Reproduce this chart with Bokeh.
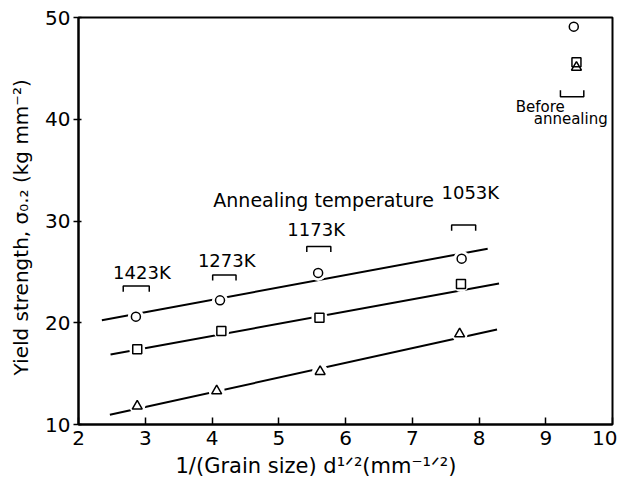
from bokeh.plotting import figure
from bokeh.models import Range1d, Label, FixedTicker, Title
from bokeh.embed import file_html
from bokeh.resources import INLINE

# ---- data ----
x_ticks = [2, 3, 4, 5, 6, 7, 8, 9, 10]
y_ticks = [10, 20, 30, 40, 50]

circle_x = [2.86, 4.12, 5.59, 7.74]
circle_y = [20.6, 22.2, 24.9, 26.3]
square_x = [2.88, 4.14, 5.61, 7.73]
square_y = [17.4, 19.2, 20.5, 23.8]
tri_x = [2.88, 4.07, 5.62, 7.71]
tri_y = [11.8, 13.3, 15.2, 18.9]

before_circle = (9.42, 49.1)
before_square = (9.46, 45.6)
before_tri = (9.46, 45.1)

fit_circle_x = [2.35, 8.13]
fit_circle_y = [20.25, 27.27]
fit_square_x = [2.48, 8.30]
fit_square_y = [16.87, 23.86]
fit_tri_x = [2.47, 8.27]
fit_tri_y = [10.95, 19.33]

temp_labels = ["1423K", "1273K", "1173K", "1053K"]
temp_label_x = [2.95, 4.22, 5.56, 7.87]
temp_label_y = [24.9, 26.1, 29.2, 32.8]
bracket_x0 = [2.67, 4.01, 5.42, 7.59]
bracket_x1 = [3.06, 4.36, 5.78, 7.95]
bracket_y = [23.6, 24.7, 27.5, 29.6]

before_bracket_x = [9.22, 9.57]
before_bracket_y = 42.2

x_title = "1/(Grain  size) d\u00b9\u141f\u00b2(mm\u207b\u00b9\u141f\u00b2)"
y_title = "Yield  strength, \u03c3\u2080.\u2082 (kg  mm\u207b\u00b2)"

FONT = "DejaVu Sans"

p = figure(width=617, height=486, output_backend="svg", toolbar_location=None,
           x_range=Range1d(2, 10), y_range=Range1d(10, 50),
           min_border_left=78, min_border_right=5, min_border_top=17, min_border_bottom=62)
p.grid.visible = False
p.background_fill_color = "white"
p.border_fill_color = "white"
p.outline_line_color = "black"
p.outline_line_width = 2

for ax in (p.xaxis[0], p.yaxis[0]):
    ax.axis_line_width = 2
    ax.axis_line_color = "black"
    ax.major_tick_line_width = 1.5
    ax.minor_tick_line_color = None
    ax.major_label_text_font = FONT
    ax.major_label_text_font_size = "20px"
    ax.major_label_text_color = "black"
    ax.axis_label_text_font = FONT
    ax.axis_label_text_font_style = "normal"
    ax.axis_label_text_color = "black"

p.xaxis[0].ticker = FixedTicker(ticks=x_ticks)
p.yaxis[0].ticker = FixedTicker(ticks=y_ticks)
p.xaxis[0].major_tick_in = 7
p.xaxis[0].major_tick_out = 0
p.xaxis[0].major_label_standoff = 6
p.yaxis[0].major_tick_in = 3
p.yaxis[0].major_tick_out = 5
p.yaxis[0].major_label_standoff = 3
p.yaxis[0].axis_label = y_title
p.yaxis[0].axis_label_text_font_size = "20px"
p.yaxis[0].axis_label_standoff = 9

# x-axis title as a left-aligned title below the axis, so it can start where the reference's does
p.add_layout(Title(text=x_title, align="left", offset=97, standoff=9, text_font=FONT,
                   text_font_size="21px", text_font_style="normal", text_color="black"), "below")

# fit lines
for fx, fy in ((fit_circle_x, fit_circle_y), (fit_square_x, fit_square_y), (fit_tri_x, fit_tri_y)):
    p.line(fx, fy, line_color="black", line_width=2)

# white halos so that lines break around markers
halo_x = circle_x + square_x + tri_x
halo_y = circle_y + square_y + tri_y
p.scatter(halo_x, halo_y, size=16, marker="circle", fill_color="white", line_color=None)

p.scatter(circle_x + [before_circle[0]], circle_y + [before_circle[1]], marker="circle",
          size=9, fill_color="white", line_color="black", line_width=1.5)
p.scatter(square_x + [before_square[0]], square_y + [before_square[1]], marker="square",
          size=9, fill_color="white", line_color="black", line_width=1.5)
p.scatter(tri_x + [before_tri[0]], tri_y + [before_tri[1]], marker="triangle",
          size=10, fill_color=None, line_color="black", line_width=1.5)

# brackets
bx = [[a, a, b, b] for a, b in zip(bracket_x0, bracket_x1)]
by = [[y - 0.55, y, y, y - 0.55] for y in bracket_y]
bx.append([before_bracket_x[0], before_bracket_x[0], before_bracket_x[1], before_bracket_x[1]])
by.append([before_bracket_y + 0.65, before_bracket_y, before_bracket_y, before_bracket_y + 0.65])
p.multi_line(bx, by, line_color="black", line_width=1.5)

def lab(x, y, text, size, align="left"):
    p.add_layout(Label(x=x, y=y, text=text, text_font=FONT, text_font_size=f"{size}px",
                       text_align=align, text_baseline="alphabetic", text_color="black"))

for t, x, y in zip(temp_labels, temp_label_x, temp_label_y):
    lab(x, y, t, 18, align="center")

lab(4.02, 32.05, "Annealing temperature", 19)
lab(8.55, 41.2, "Before", 15)
lab(8.82, 40.0, "annealing", 15)

open("out.html", "w").write(file_html(p, INLINE))
